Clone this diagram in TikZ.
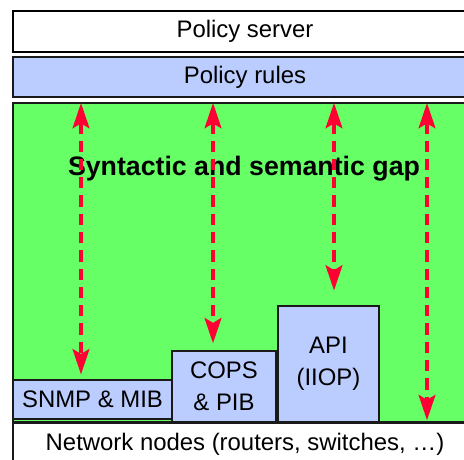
\documentclass[tikz,border=0pt]{standalone}
\usepackage{fontspec}
\setmainfont{Liberation Sans}
\usepackage{tikz}
\usetikzlibrary{arrows.meta,positioning}
\definecolor{pgreen}{HTML}{66FF66}
\definecolor{pblue}{HTML}{BBCCFF}
\definecolor{pred}{HTML}{FF0033}
\definecolor{pedge}{HTML}{1A1A1A}
\tikzset{
  player/.style={draw=pedge, line width=1.1pt, inner sep=0pt, outer sep=0pt,
                 align=center, font=\fontsize{17}{20}\selectfont},
  pserver/.style={player, fill=white, draw=black, line width=2pt},
  prules/.style={player, fill=pblue},
  pgap/.style={player, fill=pgreen},
  pproto/.style={player, fill=pblue, font=\fontsize{17}{23}\selectfont},
  pnet/.style={player, fill=white},
  ptitle/.style={font=\bfseries\fontsize{19}{22}\selectfont},
  parrow/.style={{Stealth[length=18pt,width=12pt,inset=3.5pt]}-{Stealth[length=18pt,width=12pt,inset=3.5pt]},
                 pred, line width=2.3pt, dash pattern=on 8pt off 5pt},
}

\begin{document}
\begin{tikzpicture}[x=0.025cm,y=-0.025cm]
  \clip (0,0) rectangle (464,459);
  \useasboundingbox (0,0) rectangle (464,459);

  \node[pserver, minimum width=11.6cm, minimum height=1.025cm] (server) at (245,31.5) {Policy server};
  \node[prules, minimum width=11.6cm, minimum height=1cm] (rules) at (245,77) {Policy rules};
  \node[pgap, minimum width=11.6cm, minimum height=7.975cm] (gap) at (245,262.5) {};
  \node[ptitle] (title) at (244,169) {Syntactic and semantic gap};

  \node[pproto, minimum width=3.975cm, minimum height=0.975cm] (snmp) at (92.5,399.5) {SNMP \& MIB};
  \node[pproto, minimum width=2.6cm, minimum height=1.775cm] (cops) at (224,386.5) {COPS\\\& PIB};
  \node[pproto, minimum width=2.525cm, minimum height=2.9cm] (api) at (328.5,364) {API\\(IIOP)};
  \node[pnet, minimum width=11.6cm, minimum height=1.05cm] (net) at (245,444) {Network nodes (routers, switches, \ldots)};

  % gap arrows
  \coordinate (a1) at (81,103);
  \coordinate (a2) at (213,103);
  \coordinate (a3) at (334,103);
  \coordinate (a4) at (427,103);
  \draw[parrow, shorten >=4pt] (a1) -- (a1 |- snmp.north);
  \draw[parrow, shorten >=5.5pt] (a2) -- (a2 |- cops.north);
  \draw[parrow, shorten >=11pt] (a3) -- (a3 |- api.north);
  \draw[parrow, shorten >=2pt] (a4) -- (a4 |- net.north);

\end{tikzpicture}
\end{document}
